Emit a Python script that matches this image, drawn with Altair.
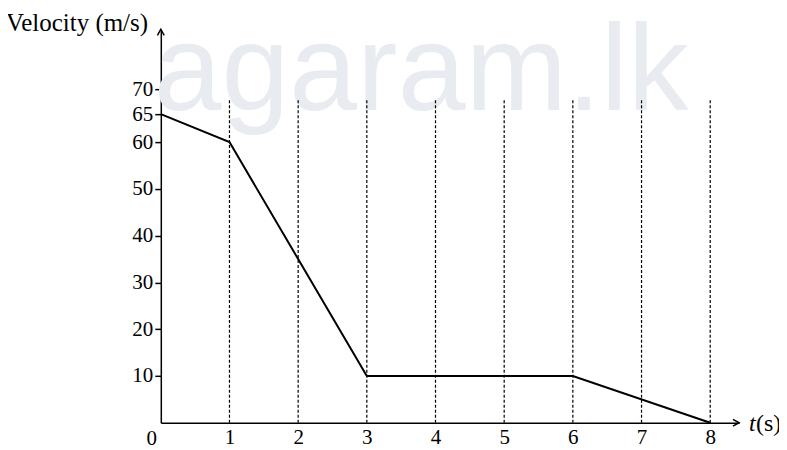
import altair as alt
import pandas as pd

# data
t_pts = [0, 1, 3, 6, 8]
v_pts = [65, 60, 10, 10, 0]
grid_t = [1, 2, 3, 4, 5, 6, 7, 8]
y_ticks = [10, 20, 30, 40, 50, 60, 65, 70]
x_ticks = [1, 2, 3, 4, 5, 6, 7, 8]
grid_top = 68
x_max = 8.42
y_max = 84

W = 579
H = 394
FONT = "Liberation Serif"

line_df = pd.DataFrame({"t": t_pts, "v": v_pts})
grid_df = pd.DataFrame({"t": grid_t, "y0": [0] * len(grid_t), "y1": [grid_top] * len(grid_t)})

xs = alt.Scale(domain=[0, x_max], nice=False, zero=False)
# the drawing is not to scale at the top, so the y scale is piecewise linear
ys = alt.Scale(domain=[0, 60, 65, 70, y_max], range=[H, 113, 85, 60, 0], nice=False, zero=False)

watermark = alt.Chart(pd.DataFrame({"s": ["agaram.lk"]})).mark_text(
    font="Liberation Sans", fontSize=122, color="#e8ebf0", align="left", baseline="alphabetic"
).encode(x=alt.value(-7), y=alt.value(81), text="s:N")

grid = alt.Chart(grid_df).mark_rule(color="black", strokeWidth=1.2, strokeDash=[3, 2]).encode(
    x=alt.X("t:Q", scale=xs, axis=alt.Axis(
        values=x_ticks, format="d", title=None, domainColor="black", domainWidth=1.5, ticks=False,
        labelFont=FONT, labelFontSize=21, labelColor="black", labelPadding=4, grid=False)),
    y=alt.Y("y0:Q", scale=ys, axis=alt.Axis(
        values=y_ticks, format="d", title=None, domainColor="black", domainWidth=1.5, tickColor="black",
        tickSize=6, tickWidth=1.5, labelFont=FONT, labelFontSize=21, labelColor="black",
        labelPadding=2, grid=False)),
    y2="y1:Q",
)

line = alt.Chart(line_df).mark_line(color="black", strokeWidth=2).encode(
    x=alt.X("t:Q", scale=xs), y=alt.Y("v:Q", scale=ys)
)

arrow_x = alt.Chart(pd.DataFrame({"t": [x_max], "v": [0]})).mark_point(
    shape="M -1 -0.55 L 0 0 L -1 0.55", filled=False, color="black", size=150, strokeWidth=1.5, opacity=1
).encode(x=alt.X("t:Q", scale=xs), y=alt.Y("v:Q", scale=ys))

arrow_y = alt.Chart(pd.DataFrame({"t": [0], "v": [y_max]})).mark_point(
    shape="M -0.55 1 L 0 0 L 0.55 1", filled=False, color="black", size=150, strokeWidth=1.5, opacity=1
).encode(x=alt.X("t:Q", scale=xs), y=alt.Y("v:Q", scale=ys))

ylabel = alt.Chart(pd.DataFrame({"s": ["Velocity (m/s)"]})).mark_text(
    font=FONT, fontSize=25, color="black", align="left", baseline="middle"
).encode(x=alt.value(-155), y=alt.value(-6), text="s:N")

origin = alt.Chart(pd.DataFrame({"s": ["0"]})).mark_text(
    font=FONT, fontSize=21, color="black", align="center", baseline="middle"
).encode(x=alt.value(-9), y=alt.value(H + 16), text="s:N")

t_lab = alt.Chart(pd.DataFrame({"s": ["t"]})).mark_text(
    font=FONT, fontSize=24, fontStyle="italic", color="black", align="left", baseline="middle"
).encode(x=alt.value(W + 10), y=alt.value(H + 1), text="s:N")

s_lab = alt.Chart(pd.DataFrame({"s": ["(s)"]})).mark_text(
    font=FONT, fontSize=24, color="black", align="left", baseline="middle"
).encode(x=alt.value(W + 17), y=alt.value(H + 1), text="s:N")

chart = alt.layer(watermark, grid, line, arrow_x, arrow_y, ylabel, origin, t_lab, s_lab).properties(
    width=W, height=H,
    background="white",
    autosize=alt.AutoSizeParams(type="none"),
    padding={"left": 153, "top": 21, "right": 40, "bottom": 26},
).configure_view(strokeWidth=0, stroke="transparent")

chart.save("out.html", embed_options={"renderer": "svg", "actions": False})
